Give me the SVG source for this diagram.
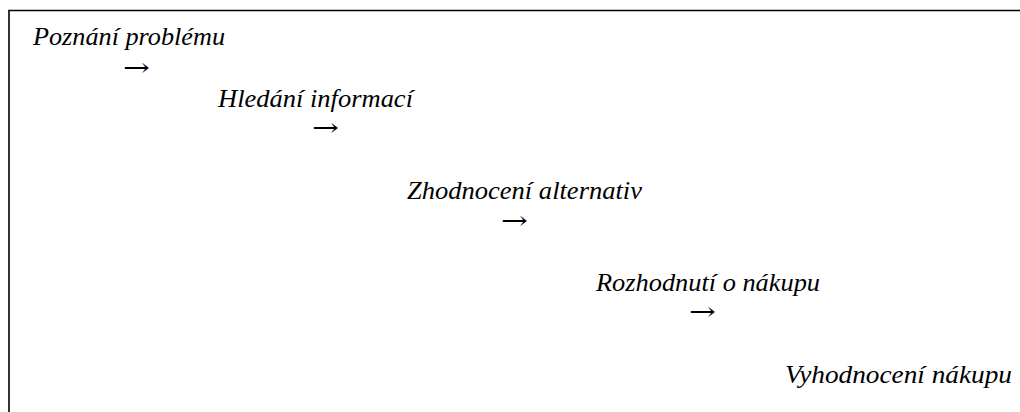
<svg xmlns="http://www.w3.org/2000/svg" width="1020" height="412" viewBox="0 0 1020 412">
  <style>
    .step { font-family: "Liberation Serif", "Times New Roman", serif; font-style: italic; font-size: 26px; fill: #000; }
    .arrow { font-family: "DejaVu Serif", "Liberation Serif", serif; font-size: 25px; fill: #000; }
    .frame { fill: none; stroke: #000; stroke-width: 1.6; }
  </style>
  <rect width="1020" height="412" fill="#fff"/>
  <!-- open frame: top and left edges only -->
  <path class="frame" d="M9 412 V10.5 H1020"/>
  <g id="step1"><text class="step" x="33" y="45" textLength="192" lengthAdjust="spacingAndGlyphs">Poznání problému</text></g>
  <g id="step2"><text class="step" x="218" y="107" textLength="195" lengthAdjust="spacingAndGlyphs">Hledání informací</text></g>
  <g id="step3"><text class="step" x="407" y="199" textLength="235" lengthAdjust="spacingAndGlyphs">Zhodnocení alternativ</text></g>
  <g id="step4"><text class="step" x="596" y="291" textLength="224" lengthAdjust="spacingAndGlyphs">Rozhodnutí o nákupu</text></g>
  <g id="step5"><text class="step" x="785" y="383" textLength="227" lengthAdjust="spacingAndGlyphs">Vyhodnocení nákupu</text></g>
  <g id="connectors">
    <text class="arrow" x="123" y="76" textLength="27" lengthAdjust="spacingAndGlyphs">→</text>
    <text class="arrow" x="312" y="136" textLength="27" lengthAdjust="spacingAndGlyphs">→</text>
    <text class="arrow" x="501" y="229" textLength="27" lengthAdjust="spacingAndGlyphs">→</text>
    <text class="arrow" x="689" y="320" textLength="27" lengthAdjust="spacingAndGlyphs">→</text>
  </g>
</svg>
